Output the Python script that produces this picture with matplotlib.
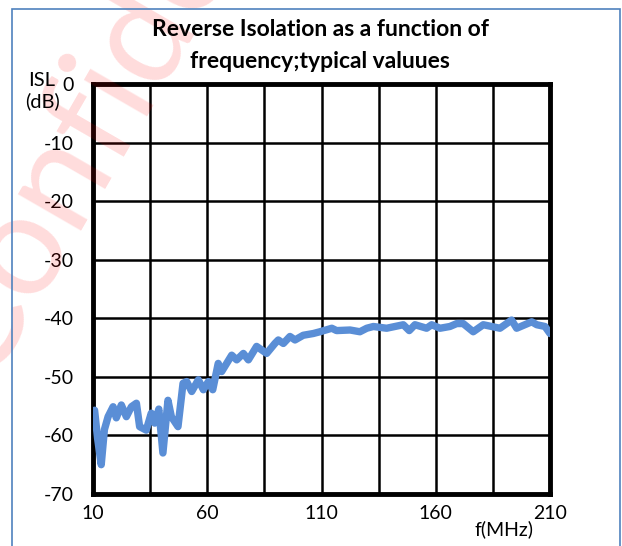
import matplotlib.pyplot as plt
from matplotlib.patches import Rectangle

# frequency (MHz) and reverse isolation (dB)
freq = [10.7, 12.0, 13.6, 15.0, 16.6, 18.8, 20.2, 22.4, 24.6, 26.8, 29.0, 30.4,
        33.3, 35.5, 37.0, 38.8, 40.6, 42.8, 44.3, 47.2, 49.4, 51.0, 53.2, 56.1,
        58.3, 60.5, 62.4, 64.8, 66.3, 70.7, 72.9, 75.8, 78.0, 81.6, 86.0, 89.6,
        91.1, 93.3, 96.2, 98.4, 102.0, 106.4, 109.3, 114.5, 116.6, 122.5, 126.8,
        129.8, 132.7, 138.5, 145.8, 148.4, 150.9, 156.0, 158.2, 161.9, 166.2,
        169.2, 172.0, 176.4, 180.8, 188.1, 193.2, 195.4, 202.0, 204.2, 207.8, 210.0]
isl = [-55.7, -60.5, -65.0, -59.0, -56.8, -55.1, -57.0, -54.8, -56.8, -55.1, -54.5, -58.5,
       -59.1, -56.2, -57.9, -55.5, -63.0, -54.0, -56.8, -58.5, -51.1, -50.8, -52.5, -50.5,
       -52.2, -50.8, -52.2, -47.7, -49.1, -46.3, -47.1, -46.0, -47.1, -44.8, -46.0, -44.3,
       -43.7, -44.3, -43.1, -43.7, -42.9, -42.6, -42.3, -41.7, -42.1, -42.0, -42.3,
       -41.7, -41.4, -41.7, -41.1, -42.1, -41.1, -41.7, -41.1, -41.7, -41.4,
       -40.9, -40.9, -42.3, -41.1, -41.7, -40.3, -41.7, -40.6, -41.1, -41.4, -42.6]

x_ticks = [10, 60, 110, 160, 210]
y_ticks = [0, -10, -20, -30, -40, -50, -60, -70]

plt.rcParams['font.family'] = ['Lato', 'DejaVu Sans']
plt.rcParams['axes.unicode_minus'] = False

fig = plt.figure(figsize=(6.22, 5.46), dpi=100)
ax = fig.add_axes([93/622, 1-494/546, 457/622, 410/546])

# watermark
fig.text(-0.025, 0.29, 'Confidential', rotation=60, rotation_mode='anchor',
         ha='left', va='baseline', fontsize=104,
         color='red', alpha=0.14, zorder=0)

# chart border
fig.patches.append(Rectangle((12/622, -0.05), 608/622, 1-9/546+0.05,
                             transform=fig.transFigure, fill=False,
                             edgecolor='#4F81BD', lw=1.2))

ax.plot(freq, isl, color='#5A8ED6', lw=5.3, solid_joinstyle='round',
        solid_capstyle='round', zorder=3)

ax.set_xlim(10, 210)
ax.set_ylim(-70, 0)
ax.set_xticks(x_ticks)
ax.set_xticks(range(35, 210, 50), minor=True)
ax.set_yticks(y_ticks)
ax.grid(True, which='both', color='black', lw=1.8)
ax.tick_params(which='both', length=0, labelsize=14)
ax.tick_params(axis='y', pad=14)
ax.tick_params(axis='x', pad=8)
for s in ax.spines.values():
    s.set_linewidth(3.5)

fig.text(320/622, 1-30/546, 'Reverse Isolation as a function of',
         ha='center', va='center', fontsize=16.5, fontweight='bold')
fig.text(320/622, 1-62/546, 'frequency;typical valuues',
         ha='center', va='center', fontsize=16.5, fontweight='bold')
fig.text(42/622, 1-91/546, 'ISL\n(dB)', ha='center', va='center',
         fontsize=14.5, linespacing=1.2)
fig.text(504/622, 1-529/546, 'f(MHz)', ha='center', va='center',
         fontsize=14)

fig.savefig('out.png', dpi=100)
